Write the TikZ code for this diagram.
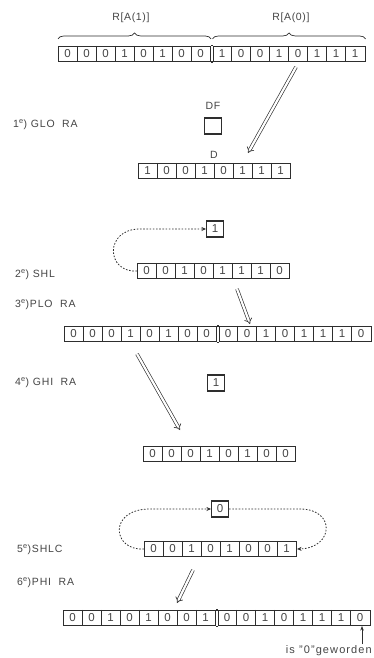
\documentclass[tikz,border=0pt]{standalone}
\usepackage{fontspec}
\setmainfont{Liberation Sans}
\usetikzlibrary{arrows.meta,calc,decorations.pathreplacing}

\definecolor{ink}{HTML}{2E2E2E}
\definecolor{txt}{HTML}{444444}

\tikzset{
  reg/.style={draw=ink, line width=1.1pt, minimum width=152pt, minimum height=15pt,
    inner sep=0pt, anchor=west},
  bit/.style={text=txt, font=\fontsize{11.5}{12}\selectfont, inner sep=0pt},
  cellsep/.style={draw=ink, line width=0.6pt},
  regedge/.style={draw=ink, line width=1.1pt},
  flag/.style={draw=ink, line width=1.1pt, minimum width=17pt, minimum height=16pt,
    inner sep=0pt, text=txt, font=\fontsize{11.5}{12}\selectfont},
  steplabel/.style={anchor=west, text=txt, inner sep=0pt,
    font=\fontsize{10.5}{12}\selectfont\addfontfeature{LetterSpace=8}},
  tag/.style={text=txt, inner sep=0pt, font=\fontsize{10.5}{12}\selectfont\addfontfeature{LetterSpace=6}},
  notetext/.style={text=txt, inner sep=0pt, font=\fontsize{11}{12}\selectfont\addfontfeature{LetterSpace=10}},
  transfer/.style={draw=ink, double=white, double distance=2.2pt, line width=0.65pt, -{Implies}},
  loop/.style={draw=ink, line width=0.8pt, dash pattern=on 1.6pt off 1.6pt,
    -{Stealth[length=4.5pt,width=4pt]}},
  pointer/.style={draw=ink, line width=0.8pt, -{Stealth[length=4.5pt,width=3.5pt]}},
  bracket/.style={draw=ink, line width=0.7pt, decorate, decoration={brace, amplitude=6pt}},
}

% an 8-bit register: name, left x, centre y, list of bits
\newcommand\bitreg[4]{%
  \node[reg] (#1) at (#2,#3) {};
  \foreach \b [count=\i] in {#4} {
    \node[bit] (#1-\i) at ($(#1.west)+(\i*19-9.5,0)$) {\b};
  }
  \foreach \i in {1,...,7} {
    \draw[cellsep] ($(#1.north west)+(\i*19,0)$) -- ($(#1.south west)+(\i*19,0)$);
  }
}
% join two registers into one 16-bit word
\newcommand\joinreg[2]{%
  \draw[regedge] (#1.north east) -- (#2.north west);
  \draw[regedge] (#1.south east) -- (#2.south west);
}

\begin{document}
\begin{tikzpicture}[x=1pt,y=-1pt]
\useasboundingbox (0,0) rectangle (373,658);

% ---- starting word R[A(1)] R[A(0)]
\bitreg{ahi}{58}{54}{0,0,0,1,0,1,0,0}
\bitreg{alo}{212.5}{54}{1,0,0,1,0,1,1,1}
\joinreg{ahi}{alo}
\draw[bracket] ($(ahi.north west)+(0,-7)$) -- ($(ahi.north east)+(0,-7)$);
\draw[bracket] ($(alo.north west)+(0,-7)$) -- ($(alo.north east)+(0,-7)$);
\node[tag] (lblhi) at (131,18) {R[A(1)]};
\node[tag] (lbllo) at (291,18) {R[A(0)]};

% ---- 1e) GLO RA
\node[steplabel] (s1) at (13,125) {1\textsuperscript{e}) GLO\ \ RA};
\node[tag] (dflbl) at (213,106) {DF};
\node[flag] (df) at (213,126) {};
\node[tag] (dlbl) at (214,155) {D};
\bitreg{d}{138}{171}{1,0,0,1,0,1,1,1}
\coordinate (t1s) at (296,67);
\coordinate (t1e) at (248,153);
\draw[transfer] (t1s) -- (t1e);

% ---- 2e) SHL
\node[flag] (c1) at (215,229) {1};
\node[steplabel] (s2) at (15,275) {2\textsuperscript{e}) SHL};
\bitreg{shl}{137}{271}{0,0,1,0,1,1,1,0}
\draw[loop] (shl.west) .. controls (106,273) and (104,229) .. (140,229) -- (c1.west);

% ---- 3e) PLO RA
\node[steplabel] (s3) at (15,305) {3\textsuperscript{e})PLO\ \ RA};
\bitreg{phi1}{64}{334}{0,0,0,1,0,1,0,0}
\bitreg{plo1}{218.5}{334}{0,0,1,0,1,1,1,0}
\joinreg{phi1}{plo1}
\coordinate (t2s) at (237,289);
\coordinate (t2e) at (250,324);
\draw[transfer] (t2s) -- (t2e);

% ---- 4e) GHI RA
\node[steplabel] (s4) at (15,383) {4\textsuperscript{e}) GHI\ \ RA};
\node[flag] (c2) at (216,383) {1};
\bitreg{ghi}{143}{454}{0,0,0,1,0,1,0,0}
\coordinate (t3s) at (137,354);
\coordinate (t3e) at (180,430);
\draw[transfer] (t3s) -- (t3e);

% ---- 5e) SHLC
\node[flag] (c3) at (220,509) {0};
\node[steplabel] (s5) at (17,550) {5\textsuperscript{e})SHLC};
\bitreg{shlc}{144}{549}{0,0,1,0,1,0,0,1}
\draw[loop] (shlc.west) .. controls (112,551) and (108,509) .. (150,509) -- (c3.west);
\draw[loop] (c3.east) -- (300,509) .. controls (336,509) and (334,548) .. (shlc.east);

% ---- 6e) PHI RA
\node[steplabel] (s6) at (17,583) {6\textsuperscript{e})PHI\ \ RA};
\bitreg{phi2}{63}{618}{0,0,1,0,1,0,0,1}
\bitreg{plo2}{217.5}{618}{0,0,1,0,1,1,1,0}
\joinreg{phi2}{plo2}
\coordinate (t4s) at (193,570);
\coordinate (t4e) at (177,603);
\draw[transfer] (t4s) -- (t4e);

% ---- note under the last bit
\node[notetext, anchor=east] (note) at (372,651) {is "0"geworden};
\coordinate (notetip) at (362,644);
\draw[pointer] (notetip) -- (notetip |- plo2.south);
\end{tikzpicture}
\end{document}
